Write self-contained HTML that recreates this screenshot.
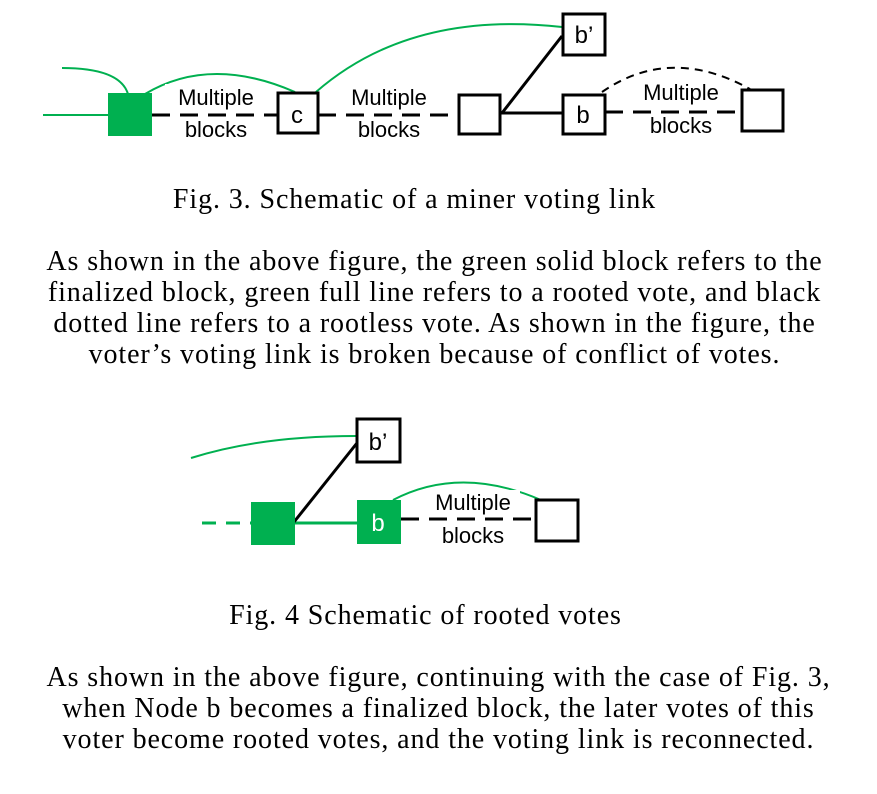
<!DOCTYPE html>
<html><head><meta charset="utf-8"><style>
body{margin:0;background:#fff;width:877px;height:794px;overflow:hidden;position:relative}
.t{position:absolute;left:0;width:877px;text-align:center;font-family:"Liberation Serif",serif;font-size:28px;letter-spacing:0.9px;line-height:31px;color:#000;white-space:nowrap}
</style></head><body>
<svg width="877" height="794" style="position:absolute;left:0;top:0" font-family="Liberation Sans, sans-serif">
<g fill="none" stroke-width="2">
<line x1="43" y1="115" x2="108" y2="115" stroke="#00b050"/>
<path d="M62 68 Q120 68 128 94" stroke="#00b050"/>
<path d="M145 94 Q210 55 295 92" stroke="#00b050"/>
<path d="M316 92 Q410 10 562 27" stroke="#00b050"/>
<line x1="152" y1="115" x2="277" y2="115" stroke="#000" stroke-width="3" stroke-dasharray="18,10"/>
<line x1="318" y1="115" x2="458" y2="115" stroke="#000" stroke-width="3" stroke-dasharray="18,10"/>
<line x1="500" y1="113" x2="562" y2="113" stroke="#000" stroke-width="3"/>
<line x1="502" y1="113" x2="562" y2="36" stroke="#000" stroke-width="3"/>
<line x1="605" y1="112" x2="741" y2="112" stroke="#000" stroke-width="3" stroke-dasharray="18,10"/>
<path d="M602 92 Q670 45 750 89" stroke="#000" stroke-dasharray="8,6"/>
</g>
<rect x="108" y="93" width="44" height="43" fill="#00b050"/>
<g fill="#fff" stroke="#000" stroke-width="3">
<rect x="278" y="93" width="40" height="40"/>
<rect x="459" y="95" width="41" height="39"/>
<rect x="563" y="14" width="42" height="41"/>
<rect x="563" y="95" width="42" height="39"/>
<rect x="742" y="90" width="41" height="41"/>
</g>
<g font-size="22" text-anchor="middle" fill="#000">
<rect x="165" y="84" width="100" height="26" fill="#fff"/>
<rect x="170" y="118" width="90" height="26" fill="#fff"/>
<text x="216" y="105">Multiple</text><text x="216" y="137">blocks</text>
<rect x="340" y="84" width="100" height="26" fill="#fff"/>
<rect x="345" y="118" width="90" height="26" fill="#fff"/>
<text x="389" y="105">Multiple</text><text x="389" y="137">blocks</text>
<rect x="630" y="80" width="100" height="26" fill="#fff"/>
<rect x="640" y="114" width="80" height="26" fill="#fff"/>
<text x="681" y="100">Multiple</text><text x="681" y="133">blocks</text>
<text x="297" y="123" font-size="24">c</text>
<text x="584" y="43" font-size="24">b’</text>
<text x="583" y="123" font-size="24">b</text>
</g>
<g fill="none" stroke-width="2">
<path d="M191 458 Q260 436 356 436" stroke="#00b050"/>
<line x1="202" y1="523" x2="251" y2="523" stroke="#00b050" stroke-width="3" stroke-dasharray="14,10"/>
<line x1="295" y1="523" x2="357" y2="523" stroke="#00b050" stroke-width="3"/>
<line x1="294" y1="522" x2="357" y2="443" stroke="#000" stroke-width="3"/>
<line x1="401" y1="519" x2="535" y2="519" stroke="#000" stroke-width="3" stroke-dasharray="18,10"/>
<path d="M393 500 Q460 465 541 500" stroke="#00b050"/>
</g>
<rect x="251" y="502" width="44" height="43" fill="#00b050"/>
<rect x="357" y="500" width="44" height="44" fill="#00b050"/>
<g fill="#fff" stroke="#000" stroke-width="3">
<rect x="357" y="419" width="43" height="43"/>
<rect x="536" y="500" width="42" height="41"/>
</g>
<g font-size="22" text-anchor="middle" fill="#000">
<rect x="425" y="490" width="95" height="25" fill="#fff"/>
<rect x="435" y="523" width="80" height="26" fill="#fff"/>
<text x="473" y="510">Multiple</text><text x="473" y="543">blocks</text>
<text x="378" y="450" font-size="24">b’</text>
<text x="378" y="531" font-size="24" fill="#fff">b</text>
</g>
</svg>
<div class="t" style="top:184px;left:-24px">Fig. 3. Schematic of a miner voting link</div>
<div class="t" style="top:246px;left:-4px">As shown in the above figure, the green solid block refers to the<br>finalized block, green full line refers to a rooted vote, and black<br>dotted line refers to a rootless vote. As shown in the figure, the<br>voter’s voting link is broken because of conflict of votes.</div>
<div class="t" style="top:600px;left:-13px">Fig. 4 Schematic of rooted votes</div>
<div class="t" style="top:662px;left:0px">As shown in the above figure, continuing with the case of Fig. 3,<br>when Node b becomes a finalized block, the later votes of this<br>voter become rooted votes, and the voting link is reconnected.</div>
</body></html>
